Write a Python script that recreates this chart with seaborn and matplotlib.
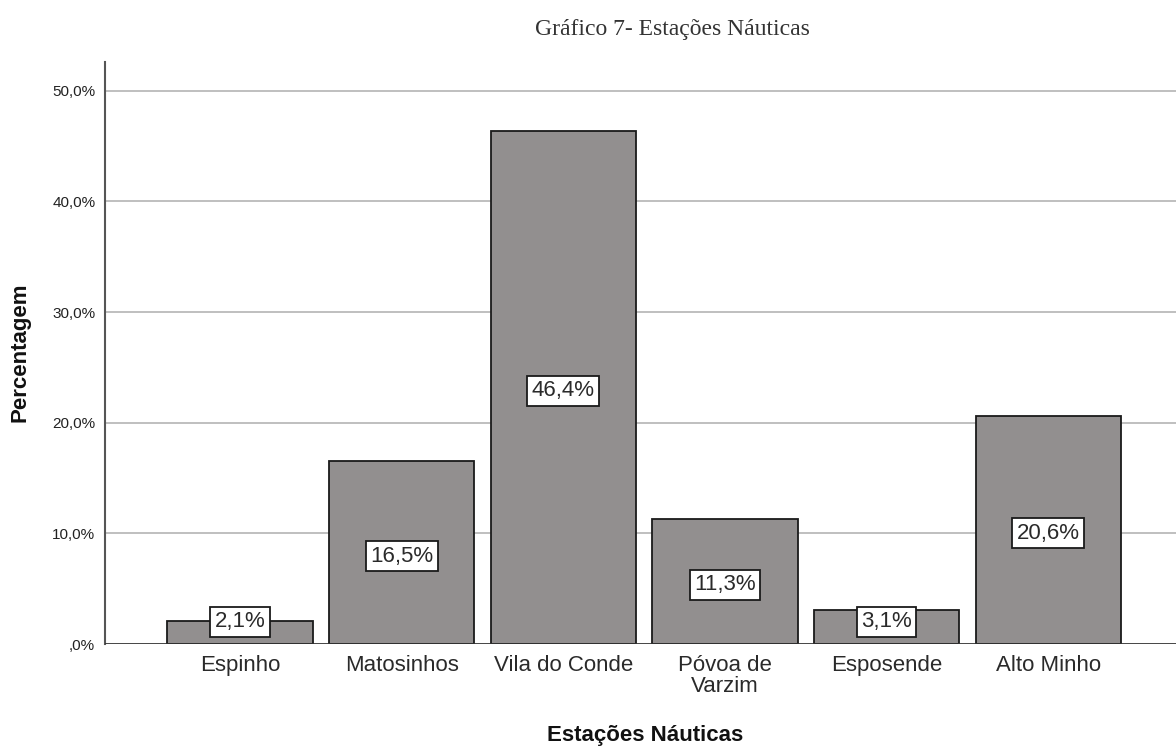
import matplotlib
matplotlib.use("Agg")
import matplotlib.pyplot as plt
import seaborn as sns
import pandas as pd

categories = ["Espinho", "Matosinhos", "Vila do Conde", "Póvoa de\nVarzim", "Esposende", "Alto Minho"]
values = [2.1, 16.5, 46.4, 11.3, 3.1, 20.6]
yticks = [0, 10, 20, 30, 40, 50]
ytick_labels = [",0%", "10,0%", "20,0%", "30,0%", "40,0%", "50,0%"]

sns.set_style("white")
plt.rcParams['font.family'] = ['Liberation Sans', 'DejaVu Sans']

df = pd.DataFrame({"cat": categories, "val": values})

fig = plt.figure(figsize=(11.76, 7.46), dpi=100)
ax = fig.add_axes([105/1176, 102/746, 1 - 105/1176, (644-62)/746])

ax.set_axisbelow(True)
for t in yticks:
    ax.axhline(t, color="#b4b4b4", lw=1.2, zorder=0)

sns.barplot(data=df, x="cat", y="val", color="#928f8f", width=0.9,
            edgecolor="#1a1a1a", linewidth=1.3, saturation=1, ax=ax, zorder=2)

for i, v in enumerate(values):
    ypos = max(v / 2 - 0.3, 2.0)
    ax.text(i, ypos, f"{v:.1f}%".replace(".", ","), ha="center", va="center",
            fontsize=16, color="#2a2a2a", zorder=5,
            bbox=dict(boxstyle="square,pad=0.2", fc="white", ec="#1a1a1a", lw=1.3))

ax.set_ylim(0, 52.6)
ax.set_xlim(-0.835, 5.79)
ax.set_yticks(yticks)
ax.set_yticklabels(ytick_labels, fontsize=11, color="#222222")
ax.tick_params(axis="x", labelsize=16, colors="#2a2a2a", length=0, pad=8)
ax.tick_params(axis="y", length=0, pad=7)
for lbl in ax.get_xticklabels():
    lbl.set_linespacing(1.0)

for s in ["top", "right", "bottom"]:
    ax.spines[s].set_visible(False)
ax.spines["left"].set_color("#555555")
ax.spines["left"].set_linewidth(1.5)
ax.axhline(0, color="#333333", lw=1.2, zorder=3)

ax.set_xlabel("")
ax.set_ylabel("")
fig.text(20/1176, 1 - 352/746, "Percentagem", rotation=90, ha="center", va="center",
         fontsize=16, fontweight="bold", color="#111111")
fig.text(645/1176, 1 - 735/746, "Estações Náuticas", ha="center", va="center",
         fontsize=16, fontweight="bold", color="#111111")
fig.text(672/1176, 1 - 30/746, "Gráfico 7- Estações Náuticas", ha="center", va="center",
         fontsize=17, color="#333333", family=["Liberation Serif", "DejaVu Serif"])

fig.savefig("out.png", dpi=100)
